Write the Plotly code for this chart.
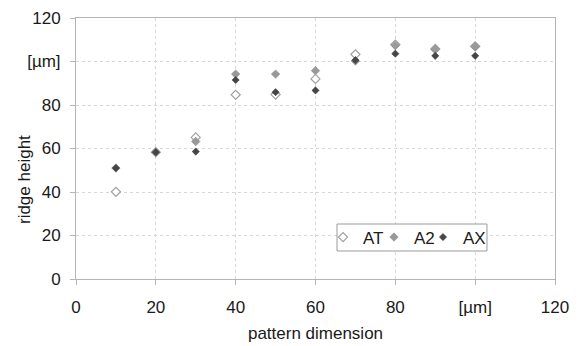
import plotly.graph_objects as go

x_vals = [10, 20, 30, 40, 50, 60, 70, 80, 90, 100]
at_vals = [40.1, 58.3, 65.1, 84.7, 84.8, 92.0, 103.3, 107.8, 105.8, 107.0]
a2_vals = [51.0, 58.3, 63.2, 94.2, 94.2, 95.8, 100.2, 107.4, 105.6, 106.8]
ax_vals = [51.0, 58.3, 58.6, 91.5, 85.9, 86.7, 100.6, 103.6, 102.6, 102.6]

x_tickvals = [0, 20, 40, 60, 80, 100, 120]
x_ticktext = ["0", "20", "40", "60", "80", "[µm]", "120"]
y_tickvals = [0, 20, 40, 60, 80, 100, 120]
y_ticktext = ["0", "20", "40", "60", "80", "[µm]", "120"]

font_family = "Liberation Sans, Arial, sans-serif"

fig = go.Figure()
fig.add_trace(go.Scatter(
    x=x_vals, y=at_vals, mode="markers", name="AT", legend="legend",
    marker=dict(symbol="diamond", size=7, color="white",
                line=dict(color="#a0a0a0", width=1.2)),
))
fig.add_trace(go.Scatter(
    x=x_vals, y=a2_vals, mode="markers", name="A2", legend="legend2",
    marker=dict(symbol="diamond", size=6.5, color="#999999",
                line=dict(color="#8c8c8c", width=0.6)),
))
fig.add_trace(go.Scatter(
    x=x_vals, y=ax_vals, mode="markers", name="AX", legend="legend3",
    marker=dict(symbol="diamond", size=5.5, color="#454545",
                line=dict(color="#3a3a3a", width=0.6)),
))

leg_common = dict(
    orientation="h", y=0.159, xanchor="left", yanchor="middle",
    borderwidth=0, bgcolor="rgba(0,0,0,0)",
    font=dict(size=17, family=font_family, color="#1a1a1a"),
    itemsizing="trace", itemwidth=30,
)

fig.update_layout(
    width=575, height=338,
    margin=dict(l=68, r=28, t=10, b=67, autoexpand=False),
    paper_bgcolor="white", plot_bgcolor="white",
    font=dict(family=font_family, size=17, color="#1a1a1a"),
    showlegend=True,
    legend=dict(x=0.5157, **leg_common),
    legend2=dict(x=0.6221, **leg_common),
    legend3=dict(x=0.7244, **leg_common),
    shapes=[dict(
        type="rect", xref="paper", yref="paper",
        x0=0.5449, x1=0.858, y0=0.1073, y1=0.2107,
        line=dict(color="#9a9a9a", width=1), fillcolor="white", layer="above",
    )],
    xaxis=dict(
        range=[0, 120], tickvals=x_tickvals, ticktext=x_ticktext,
        showgrid=True, gridcolor="#d6d6d6", griddash="dot", gridwidth=1,
        showline=True, linecolor="#b5b5b5", linewidth=1, mirror=True,
        ticks="outside", ticklen=5, tickcolor="#b5b5b5",
        ticklabelstandoff=8, ticklabeloverflow="allow",
        zeroline=False, automargin=False,
        title=dict(text="pattern dimension", font=dict(size=17), standoff=10),
    ),
    yaxis=dict(
        range=[0, 120], tickvals=y_tickvals, ticktext=y_ticktext,
        showgrid=True, gridcolor="#d6d6d6", griddash="dot", gridwidth=1,
        showline=True, linecolor="#b5b5b5", linewidth=1, mirror=True,
        ticks="outside", ticklen=5, tickcolor="#b5b5b5",
        ticklabelstandoff=6, ticklabeloverflow="allow",
        zeroline=False, automargin=False,
    ),
    annotations=[dict(
        text="ridge height", textangle=-90, showarrow=False,
        xref="paper", yref="paper", x=-0.1086, y=0.383,
        xanchor="center", yanchor="middle",
        font=dict(size=17, family=font_family, color="#1a1a1a"),
    )],
)

fig.write_html("out.html")
